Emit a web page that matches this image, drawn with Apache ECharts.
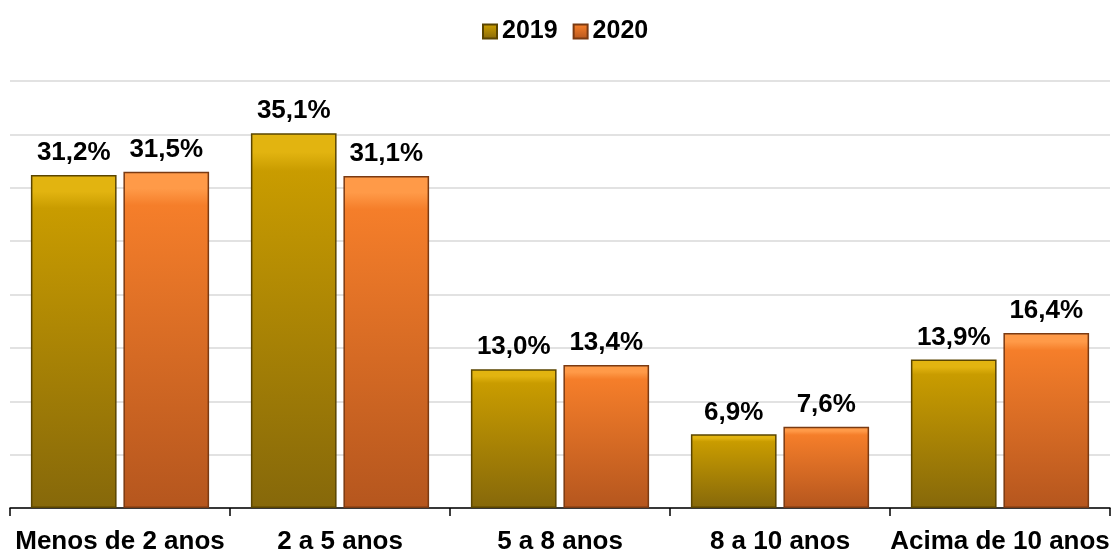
<!DOCTYPE html>
<html>
<head>
<meta charset="utf-8">
<script src="https://cdn.jsdelivr.net/npm/echarts@6/dist/echarts.min.js"></script>
<style>
  html, body { margin: 0; padding: 0; background: #fff; }
  #chart { width: 1116px; height: 555px; }
</style>
</head>
<body>
<div id="chart"></div>
<script>
// faixas de tempo
const categories = ['Menos de 2 anos', '2 a 5 anos', '5 a 8 anos', '8 a 10 anos', 'Acima de 10 anos'];
const seriesNames = ['2019', '2020'];
const values2019 = [31.2, 35.1, 13.0, 6.9, 13.9];
const values2020 = [31.5, 31.1, 13.4, 7.6, 16.4];

const chart = echarts.init(document.getElementById('chart'));

// gradiente vertical para simular o relevo das barras
function barColor(top, mid, bottom) {
  return new echarts.graphic.LinearGradient(0, 0, 0, 1, [
    { offset: 0, color: top },
    { offset: 0.05, color: top },
    { offset: 0.1, color: mid },
    { offset: 1, color: bottom }
  ]);
}

const fmt = p => p.value.toFixed(1).replace('.', ',') + '%';
const font = 'Liberation Sans, Arial, sans-serif';

function makeSeries(name, data, colors, border) {
  return {
    name: name,
    type: 'bar',
    data: data,
    barGap: '8%',
    barCategoryGap: '19%',
    itemStyle: {
      color: barColor(colors[0], colors[1], colors[2]),
      borderColor: border,
      borderWidth: 1.5
    },
    label: {
      show: true,
      position: 'top',
      distance: 9,
      formatter: fmt,
      color: '#000',
      fontWeight: 'bold',
      fontSize: 26,
      fontFamily: font
    }
  };
}

const option = {
  animation: false,
  color: ['#b48c00', '#e8752a'],
  legend: {
    top: 14,
    left: 477,
    itemWidth: 14,
    itemHeight: 14,
    itemGap: 15,
    icon: 'rect',
    textStyle: { fontSize: 25, fontWeight: 'bold', color: '#000', fontFamily: font },
    data: seriesNames
  },
  grid: { left: 10, right: 6, top: 81, bottom: 42, containLabel: false },
  xAxis: {
    type: 'category',
    data: categories,
    axisLine: { lineStyle: { color: '#000', width: 1.5 } },
    axisTick: { show: true, length: 8, lineStyle: { color: '#000', width: 1.5 } },
    axisLabel: {
      margin: 21,
      interval: 0,
      color: '#000',
      fontWeight: 'bold',
      fontSize: 26,
      fontFamily: font
    }
  },
  yAxis: {
    type: 'value',
    min: 0,
    max: 40,
    interval: 5,
    axisLabel: { show: false },
    axisLine: { show: false },
    axisTick: { show: false },
    splitLine: { lineStyle: { color: '#d9d9d9', width: 1.5 } }
  },
  series: [
    makeSeries(seriesNames[0], values2019, ['#e2b410', '#c99c00', '#86680a'], '#5a4500'),
    makeSeries(seriesNames[1], values2020, ['#ff9a48', '#f57e2a', '#b5561e'], '#7a3a12')
  ]
};

chart.setOption(option);
</script>
</body>
</html>
